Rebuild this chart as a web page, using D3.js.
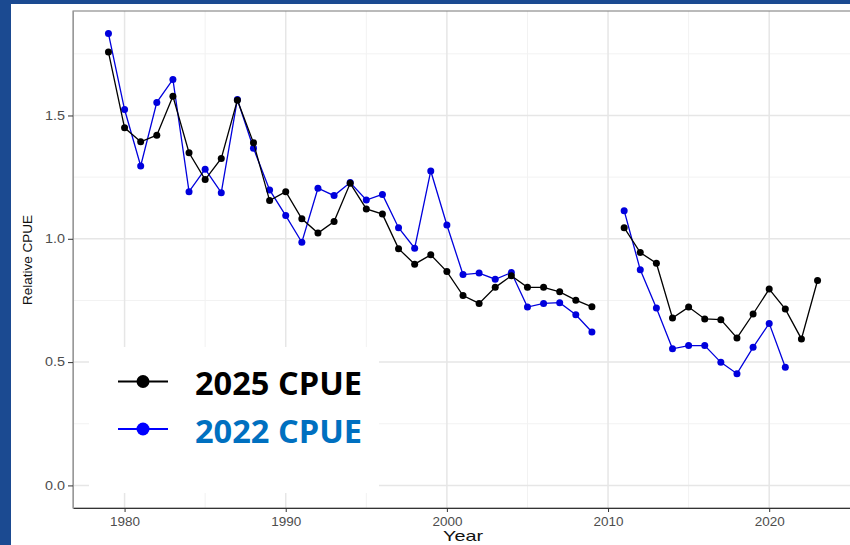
<!DOCTYPE html>
<html lang="en">
<head>
<meta charset="UTF-8">
<title>Relative CPUE</title>
<style>
    html, body { margin: 0; padding: 0; background: #1b4a91; }
    svg { display: block; }
</style>
</head>
<body>
<script src="https://d3js.org/d3.v7.min.js"></script>
<script>

    // years with a gap at 2010 (no value in either series)
    var years = d3.range(1979, 2024);

    var cpue2025 = [1.757, 1.450, 1.393, 1.420, 1.578, 1.349, 1.240, 1.326, 1.562, 1.389,
                    1.155, 1.191, 1.081, 1.023, 1.070, 1.225, 1.121, 1.100, 0.960, 0.897,
                    0.935, 0.867, 0.770, 0.738, 0.803, 0.850, 0.803, 0.803, 0.785, 0.751,
                    0.724, null, 1.045, 0.944, 0.901, 0.679, 0.723, 0.675, 0.672, 0.598,
                    0.695, 0.796, 0.715, 0.594, 0.831];

    var cpue2022 = [1.832, 1.524, 1.295, 1.553, 1.646, 1.191, 1.282, 1.187, 1.565, 1.367,
                    1.198, 1.094, 0.986, 1.205, 1.175, 1.228, 1.157, 1.180, 1.045, 0.962,
                    1.275, 1.056, 0.855, 0.861, 0.836, 0.863, 0.723, 0.738, 0.741, 0.692,
                    0.622, null, 1.114, 0.874, 0.719, 0.554, 0.567, 0.567, 0.499, 0.453,
                    0.560, 0.657, 0.479, null, null];

    var seriesNames = ["2025 CPUE", "2022 CPUE"];
    var xTicks = [1980, 1990, 2000, 2010, 2020];
    var yTicks = [0, 0.5, 1.0, 1.5];

    var W = 850, H = 545;
    var panel = {left: 73, top: 11, right: 853, bottom: 508};

    var svg = d3.select("body").append("svg")
        .attr("width", W)
        .attr("height", H);

    // white slide area
    svg.append("rect")
        .attr("x", 11).attr("y", 4)
        .attr("width", W - 11).attr("height", H - 4)
        .attr("fill", "#fff");

    // ggplot style 5% expansion
    var xr = [1979, 2023], xe = (xr[1] - xr[0]) * 0.05;
    var yMax = d3.max(cpue2022.concat(cpue2025)), ye = yMax * 0.05;

    var x = d3.scaleLinear()
        .domain([xr[0] - xe, xr[1] + xe])
        .range([panel.left, panel.right]);

    var y = d3.scaleLinear()
        .domain([0 - ye, yMax + ye])
        .range([panel.bottom, panel.top]);

    var grid = svg.append("g");

    // minor grid
    var xMinor = [1985, 1995, 2005, 2015];
    var yMinor = [0.25, 0.75, 1.25, 1.75];
    grid.selectAll(".xm").data(xMinor).enter().append("line")
        .attr("x1", x).attr("x2", x)
        .attr("y1", panel.top).attr("y2", panel.bottom)
        .attr("stroke", "#f2f2f2").attr("stroke-width", 1);
    grid.selectAll(".ym").data(yMinor).enter().append("line")
        .attr("y1", y).attr("y2", y)
        .attr("x1", panel.left).attr("x2", panel.right)
        .attr("stroke", "#f2f2f2").attr("stroke-width", 1);

    // major grid
    grid.selectAll(".xM").data(xTicks).enter().append("line")
        .attr("x1", x).attr("x2", x)
        .attr("y1", panel.top).attr("y2", panel.bottom)
        .attr("stroke", "#e6e6e6").attr("stroke-width", 1.5);
    grid.selectAll(".yM").data(yTicks).enter().append("line")
        .attr("y1", y).attr("y2", y)
        .attr("x1", panel.left).attr("x2", panel.right)
        .attr("stroke", "#e6e6e6").attr("stroke-width", 1.5);

    // panel border
    svg.append("rect")
        .attr("x", panel.left).attr("y", panel.top)
        .attr("width", panel.right - panel.left)
        .attr("height", panel.bottom - panel.top)
        .attr("fill", "none")
        .attr("stroke", "#777").attr("stroke-width", 1);

    // axes
    var xAxis = d3.axisBottom(x).tickValues(xTicks).tickFormat(d3.format("d")).tickSize(4).tickSizeOuter(0);
    var yAxis = d3.axisLeft(y).tickValues(yTicks).tickFormat(d3.format(".1f")).tickSize(5).tickSizeOuter(0);

    var gx = svg.append("g")
        .attr("transform", "translate(0," + panel.bottom + ")")
        .call(xAxis);
    gx.select(".domain").attr("stroke", "#333");
    gx.selectAll(".tick line").attr("stroke", "#333");
    gx.selectAll("text")
        .attr("fill", "#4d4d4d")
        .attr("font-family", "Liberation Sans, Arial, sans-serif")
        .attr("font-size", 12)
        .attr("textLength", 30)
        .attr("lengthAdjust", "spacingAndGlyphs")
        .attr("dy", "0.9em");

    var gy = svg.append("g")
        .attr("transform", "translate(" + panel.left + ",0)")
        .call(yAxis);
    gy.select(".domain").attr("stroke", "#999");
    gy.selectAll(".tick line").attr("stroke", "#333");
    gy.selectAll("text")
        .attr("fill", "#4d4d4d")
        .attr("font-family", "Liberation Sans, Arial, sans-serif")
        .attr("font-size", 12)
        .attr("textLength", 20)
        .attr("lengthAdjust", "spacingAndGlyphs");

    svg.append("text")
        .attr("x", (panel.left + panel.right) / 2)
        .attr("y", 541)
        .attr("text-anchor", "middle")
        .attr("font-family", "Liberation Sans, Arial, sans-serif")
        .attr("font-size", 15)
        .attr("textLength", 40)
        .attr("lengthAdjust", "spacingAndGlyphs")
        .attr("fill", "#111")
        .text("Year");

    svg.append("text")
        .attr("transform", "translate(32,260) rotate(-90)")
        .attr("text-anchor", "middle")
        .attr("font-family", "Liberation Sans, Arial, sans-serif")
        .attr("font-size", 13)
        .attr("textLength", 90)
        .attr("lengthAdjust", "spacingAndGlyphs")
        .attr("fill", "#111")
        .text("Relative CPUE");

    // series
    var series = [
        {name: seriesNames[1], values: cpue2022, color: "#0000dd"},
        {name: seriesNames[0], values: cpue2025, color: "#000000"}
    ];

    var line = d3.line()
        .defined(function (d) { return d.v != null; })
        .x(function (d) { return x(d.year); })
        .y(function (d) { return y(d.v); });

    series.forEach(function (s) {
        var pts = years.map(function (yr, i) { return {year: yr, v: s.values[i]}; });
        svg.append("path")
            .datum(pts)
            .attr("fill", "none")
            .attr("stroke", s.color)
            .attr("stroke-width", 1.3)
            .attr("d", line);
        svg.append("g").selectAll("circle")
            .data(pts.filter(function (d) { return d.v != null; }))
            .enter().append("circle")
            .attr("cx", function (d) { return x(d.year); })
            .attr("cy", function (d) { return y(d.v); })
            .attr("r", 3.5)
            .attr("fill", s.color);
    });

    // legend with white box over the grid
    var lg = svg.append("g");
    lg.append("rect")
        .attr("x", 89).attr("y", 347)
        .attr("width", 290).attr("height", 146)
        .attr("fill", "#fff");

    var legendItems = [
        {name: seriesNames[0], line: "#000", text: "#000", cy: 381.5},
        {name: seriesNames[1], line: "#0000ff", text: "#0070c0", cy: 429}
    ];
    legendItems.forEach(function (d) {
        lg.append("line")
            .attr("x1", 118).attr("x2", 168)
            .attr("y1", d.cy).attr("y2", d.cy)
            .attr("stroke", d.line).attr("stroke-width", 2);
        lg.append("circle")
            .attr("cx", 143).attr("cy", d.cy).attr("r", 6.5)
            .attr("fill", d.line);
        lg.append("text")
            .attr("x", 195).attr("y", d.cy + 13.5)
            .attr("font-family", "Open Sans, Liberation Sans, sans-serif")
            .attr("font-weight", "bold")
            .attr("font-size", 33)
            .attr("textLength", 167)
            .attr("lengthAdjust", "spacingAndGlyphs")
            .attr("fill", d.text)
            .text(d.name);
    });

</script>
</body>
</html>
